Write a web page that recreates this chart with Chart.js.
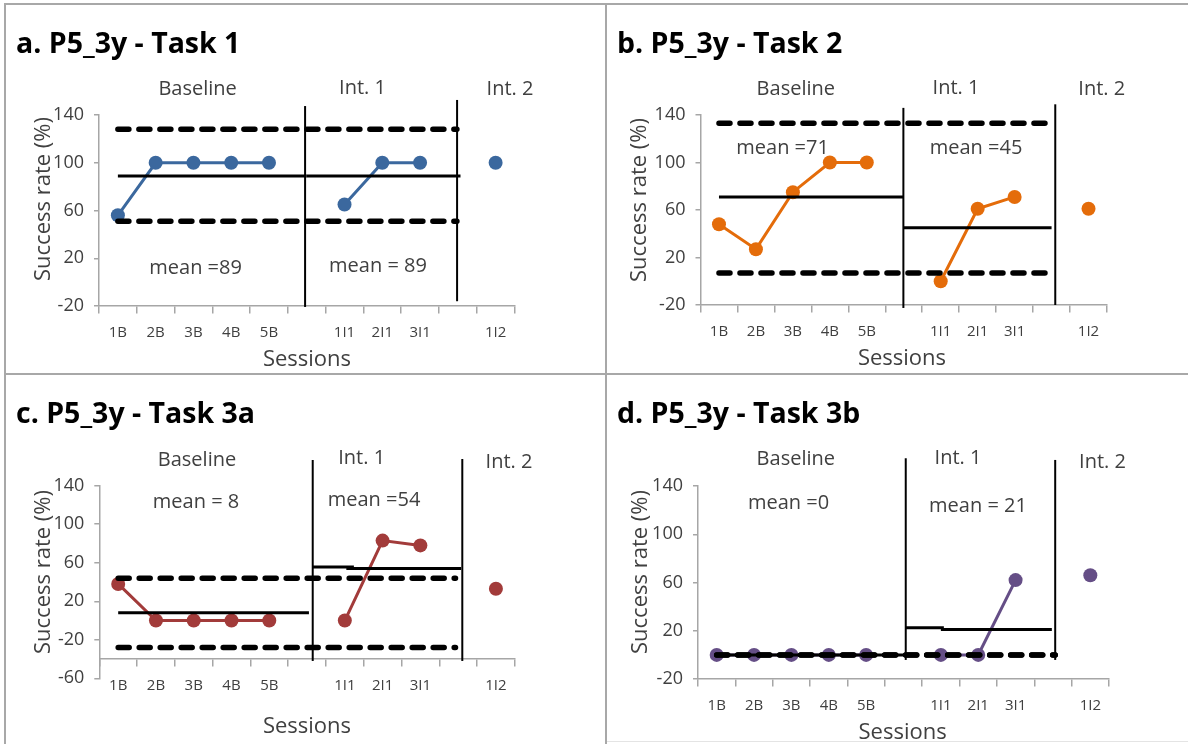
<!DOCTYPE html>
<html>
<head>
<meta charset="utf-8">
<title>P5_3y success rates</title>
<script src="https://cdn.jsdelivr.net/npm/chart.js@4.4.1/dist/chart.umd.min.js"></script>
<style>
  html, body { margin: 0; padding: 0; background: #ffffff; }
  #sheet { position: relative; width: 1188px; height: 744px; overflow: hidden; background: #ffffff; }
  #sheet canvas { position: absolute; }
  .rule { position: absolute; background: #a8a8a8; z-index: 5; }
</style>
</head>
<body>
<div id="sheet">
  <canvas id="panelA"></canvas>
  <canvas id="panelB"></canvas>
  <canvas id="panelC"></canvas>
  <canvas id="panelD"></canvas>
  <div class="rule" style="left:4px;top:3px;width:2px;height:741px"></div>
  <div class="rule" style="left:4px;top:3px;width:1184px;height:2px"></div>
  <div class="rule" style="left:605px;top:3px;width:2px;height:741px"></div>
  <div class="rule" style="left:4px;top:373px;width:1184px;height:2px"></div>
  <div class="rule" style="left:607px;top:741px;width:581px;height:1px;background:#e4e4e4"></div>
</div>
<script>
// Session labels (empty slots separate the phases)
const sessions = ['1B', '2B', '3B', '4B', '5B', '', '1I1', '2I1', '3I1', '', '1I2'];

// Value-axis tick labels
const yTicksStandard = [-20, 20, 60, 100, 140];
const yTicksExtended = [-60, -20, 20, 60, 100, 140];

// Task 1
const task1Rates = [56, 100, 100, 100, 100, null, 65, 100, 100, null, 100];
const task1Means = [89, 89];
const task1Limits = [128, 51];

// Task 2
const task2Rates = [48, 27, 75, 100, 100, null, 0, 61, 71, null, 61];
const task2Means = [71, 45];
const task2Limits = [133, 7];

// Task 3a
const task3aRates = [38, 0, 0, 0, 0, null, 0, 83, 78, null, 33];
const task3aMeans = [8, 54];
const task3aLimits = [44, -28];
const task3aMeanLead = 55.5;   // short leading piece of the Int. 1 mean line

// Task 3b
const task3bRates = [0, 0, 0, 0, 0, null, 0, 0, 62, null, 66];
const task3bMeans = [0, 21];
const task3bLimits = [0, 0];
const task3bMeanLead = 22.5;

const phaseNames = ['Baseline', 'Int. 1', 'Int. 2'];

const FONT = '"Open Sans", "Liberation Sans", sans-serif';
const TEXT_GREY = '#404040';
const AXIS_GREY = '#a6a6a6';

// Layout of each panel on the sheet (page pixels). Line extents use session units.
const panels = [
  {
    id: 'panelA', title: 'a. P5_3y - Task 1', color: '#3b689e',
    rates: task1Rates, means: task1Means, limits: task1Limits,
    box: { left: 0, top: 0, w: 604, h: 372 },
    area: { left: 99, right: 514.5, top: 115, bottom: 306 },
    yMin: -20, xCross: -20, yTicks: yTicksStandard,
    meanSegs: [[0, 5.0, task1Means[0]], [5.0, 9.07, task1Means[1]]],
    limitSpan: [0, 8.975],
    separators: [[4.956, 147.5, -20.8], [8.98, 152.6, -16]],
    titlePos: [16, 53],
    phasePos: [[197.6, 88], [362.5, 87], [510, 88]],
    meanText: [['mean =', 195.6, 267], ['mean = ', 378, 265]],
    sessionsPos: [307, 358], yTitlePos: [42, 199]
  },
  {
    id: 'panelB', title: 'b. P5_3y - Task 2', color: '#e46c0a',
    rates: task2Rates, means: task2Means, limits: task2Limits,
    box: { left: 607, top: 0, w: 581, h: 372 },
    area: { left: 700.5, right: 1107, top: 115, bottom: 305 },
    yMin: -20, xCross: -20, yTicks: yTicksStandard,
    meanSegs: [[0, 5.0, task2Means[0]], [5.0, 9.0, task2Means[1]]],
    limitSpan: [0, 9.07],
    separators: [[4.99, 146, -22.5], [9.1, 149, -20]],
    titlePos: [617, 53],
    phasePos: [[795.8, 88], [956, 87], [1101.8, 88]],
    meanText: [['mean =', 782.6, 146.7], ['mean =', 976, 147]],
    sessionsPos: [902, 356.7], yTitlePos: [638, 200]
  },
  {
    id: 'panelC', title: 'c. P5_3y - Task 3a', color: '#a23b3a',
    rates: task3aRates, means: task3aMeans, limits: task3aLimits,
    box: { left: 0, top: 375, w: 604, h: 369 },
    area: { left: 99.3, right: 514.8, top: 485.7, bottom: 678.3 },
    yMin: -60, xCross: -40, yTicks: yTicksExtended,
    meanSegs: [[0, 5.05, task3aMeans[0]], [5.15, 6.24, task3aMeanLead], [6.04, 9.08, task3aMeans[1]]],
    limitSpan: [0, 8.93],
    separators: [[5.15, 166.7, -42], [9.11, 167.7, -42]],
    titlePos: [16, 423],
    phasePos: [[197, 459], [361.7, 456.7], [509, 461]],
    meanText: [['mean = ', 196, 501], ['mean =', 374, 499]],
    sessionsPos: [307, 725], yTitlePos: [42, 572]
  },
  {
    id: 'panelD', title: 'd. P5_3y - Task 3b', color: '#654e86',
    rates: task3bRates, means: task3bMeans, limits: task3bLimits,
    box: { left: 607, top: 375, w: 581, h: 369 },
    area: { left: 698, right: 1109, top: 486, bottom: 679 },
    yMin: -20, xCross: -20, yTicks: yTicksStandard,
    meanSegs: [[0, 5.06, task3bMeans[0]], [5.06, 6.08, task3bMeanLead], [6.0, 8.97, task3bMeans[1]]],
    limitSpan: [0, 9.06],
    separators: [[5.06, 163, -4.2], [9.06, 161.6, -4.2]],
    titlePos: [617, 423],
    phasePos: [[795.8, 458], [958, 457], [1102.5, 461]],
    meanText: [['mean =', 788.6, 501.7], ['mean = ', 978, 505]],
    sessionsPos: [902.6, 731], yTitlePos: [639, 572]
  }
];

// Text centred on the cap height of the font
function capText(ctx, str, cx, cy, size, weight, align) {
  ctx.font = (weight || 'normal') + ' ' + size + 'px ' + FONT;
  ctx.textAlign = align || 'center';
  ctx.textBaseline = 'alphabetic';
  ctx.fillText(str, cx, cy + 0.357 * size);
}

function decorations(p) {
  const ox = p.box.left, oy = p.box.top;
  return {
    id: 'panelDecor',
    afterDatasetsDraw(chart) {
      const { ctx, scales } = chart;
      ctx.save();
      ctx.strokeStyle = '#000000';
      ctx.lineWidth = 2;
      ctx.lineCap = 'butt';
      p.separators.forEach(([xv, top, bottom]) => {
        const x = scales.x.getPixelForValue(xv);
        ctx.beginPath();
        ctx.moveTo(x, scales.y.getPixelForValue(top));
        ctx.lineTo(x, scales.y.getPixelForValue(bottom));
        ctx.stroke();
      });
      ctx.restore();
    },
    afterDraw(chart) {
      const ctx = chart.ctx;
      ctx.save();
      // panel heading
      ctx.fillStyle = '#000000';
      ctx.font = 'bold 28.5px ' + FONT;
      ctx.textAlign = 'left';
      ctx.textBaseline = 'alphabetic';
      ctx.fillText(p.title, p.titlePos[0] - ox, p.titlePos[1] - oy);

      ctx.fillStyle = TEXT_GREY;
      phaseNames.forEach((name, i) => {
        capText(ctx, name, p.phasePos[i][0] - ox, p.phasePos[i][1] - oy, 20);
      });
      p.meanText.forEach(([prefix, x, y], i) => {
        capText(ctx, prefix + p.means[i], x - ox, y - oy, 20);
      });
      capText(ctx, 'Sessions', p.sessionsPos[0] - ox, p.sessionsPos[1] - oy, 22);

      ctx.translate(p.yTitlePos[0] - ox, p.yTitlePos[1] - oy);
      ctx.rotate(-Math.PI / 2);
      capText(ctx, 'Success rate (%)', 0, 0, 22);
      ctx.restore();
    }
  };
}

function buildPanel(p) {
  const cv = document.getElementById(p.id);
  cv.width = p.box.w;
  cv.height = p.box.h;
  cv.style.left = p.box.left + 'px';
  cv.style.top = p.box.top + 'px';

  const yAxisWidth = p.area.left - p.box.left;
  const padRight = p.box.left + p.box.w - p.area.right;
  const padTop = p.area.top - p.box.top;
  const padBottom = p.box.top + p.box.h - p.area.bottom;

  const datasets = [{
    data: p.rates.map((v, i) => ({ x: i, y: v })),
    borderColor: p.color,
    backgroundColor: p.color,
    pointBackgroundColor: p.color,
    borderWidth: 3,
    pointRadius: 7,
    pointBorderWidth: 0,
    spanGaps: false,
    order: 2
  }];
  p.limits.forEach(v => datasets.push({
    data: [{ x: p.limitSpan[0], y: v }, { x: p.limitSpan[1], y: v }],
    borderColor: '#000000',
    borderWidth: 5.5,
    borderDash: [11, 10],
    borderCapStyle: 'round',
    pointRadius: 0,
    clip: false,
    order: 1
  }));
  p.meanSegs.forEach(([a, b, v]) => datasets.push({
    data: [{ x: a, y: v }, { x: b, y: v }],
    borderColor: '#000000',
    borderWidth: 3,
    pointRadius: 0,
    clip: false,
    order: 1
  }));

  new Chart(cv, {
    type: 'line',
    data: { datasets },
    options: {
      responsive: false,
      animation: false,
      events: [],
      layout: { padding: { left: 0, right: padRight, top: padTop, bottom: padBottom } },
      scales: {
        x: {
          type: 'linear',
          axis: 'x',
          min: -0.5,
          max: 10.5,
          position: { y: p.xCross },
          afterBuildTicks: s => { s.ticks = sessions.map((_, i) => ({ value: i })); },
          ticks: {
            callback: v => sessions[v] || '',
            autoSkip: false,
            maxRotation: 0,
            minRotation: 0,
            color: TEXT_GREY,
            font: { family: FONT, size: 15 },
            padding: 11
          },
          grid: { offset: true, drawOnChartArea: false, tickLength: 7, color: AXIS_GREY, lineWidth: 1.5 },
          border: { color: AXIS_GREY, width: 1.5 }
        },
        y: {
          type: 'linear',
          position: 'left',
          min: p.yMin,
          max: 140,
          afterFit: s => { s.width = yAxisWidth; },
          afterBuildTicks: s => { s.ticks = p.yTicks.map(v => ({ value: v })); },
          ticks: { color: TEXT_GREY, font: { family: FONT, size: 18 }, padding: 10 },
          grid: { drawOnChartArea: false, tickLength: 5, color: AXIS_GREY, lineWidth: 1.5 },
          border: { color: AXIS_GREY, width: 1.5 }
        }
      },
      plugins: { legend: { display: false }, tooltip: { enabled: false } }
    },
    plugins: [decorations(p)]
  });
}

Promise.all([
  document.fonts.load('18px "Open Sans"'),
  document.fonts.load('bold 28.5px "Open Sans"')
]).catch(() => null).then(() => panels.forEach(buildPanel));
</script>
</body>
</html>
